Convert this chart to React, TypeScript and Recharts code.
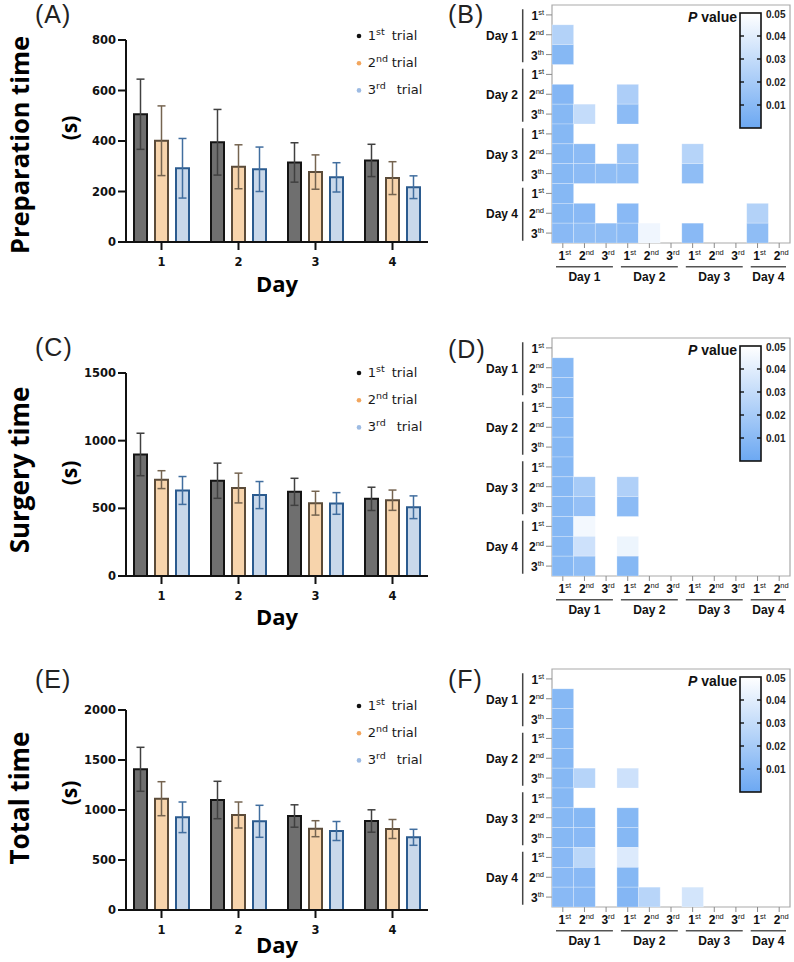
import React from 'react';
import {
  BarChart,
  Bar,
  XAxis,
  YAxis,
  ErrorBar,
  Legend,
  Label,
  ScatterChart,
  Scatter,
  ReferenceArea,
} from 'recharts';

// ---------- bar chart data: mean ± SD (s) per day and trial ----------
const dayLabels = ['1', '2', '3', '4'];

const prep1st = [506, 395, 315, 323];
const prep1stSd = [139, 130, 78, 64];
const prep2nd = [401, 298, 277, 253];
const prep2ndSd = [138, 87, 68, 65];
const prep3rd = [292, 288, 256, 217];
const prep3rdSd = [118, 88, 58, 45];

const surg1st = [898, 704, 622, 570];
const surg1stSd = [157, 130, 100, 86];
const surg2nd = [712, 650, 538, 560];
const surg2ndSd = [66, 110, 88, 75];
const surg3rd = [632, 598, 536, 508];
const surg3rdSd = [103, 100, 80, 84];

const total1st = [1407, 1100, 940, 890];
const total1stSd = [220, 187, 112, 112];
const total2nd = [1113, 950, 813, 810];
const total2ndSd = [170, 130, 80, 95];
const total3rd = [927, 887, 790, 727];
const total3rdSd = [153, 160, 95, 80];

const prepTicks = [0, 200, 400, 600, 800];
const surgTicks = [0, 500, 1000, 1500];
const totalTicks = [0, 500, 1000, 1500, 2000];

// ---------- pairwise comparisons: [row, column, p value] ----------
// rows: Day1 1st..3th, Day2 1st..3th, Day3 ..., Day4 ... (12)
// columns: Day1 1st..3rd, Day2 ..., Day3 ..., Day4 1st, 2nd (11)
const prepPairs: [number, number, number][] = [
  [1, 0, 0.024], [2, 0, 0.009],
  [4, 0, 0.008], [4, 3, 0.022],
  [5, 0, 0.009], [5, 1, 0.03], [5, 3, 0.011],
  [6, 0, 0.009],
  [7, 0, 0.009], [7, 1, 0.011], [7, 3, 0.016], [7, 6, 0.025],
  [8, 0, 0.009], [8, 1, 0.011], [8, 2, 0.012], [8, 3, 0.012], [8, 6, 0.012],
  [9, 0, 0.009],
  [10, 0, 0.009], [10, 1, 0.01], [10, 3, 0.01], [10, 9, 0.024],
  [11, 0, 0.01], [11, 1, 0.012], [11, 2, 0.012], [11, 3, 0.011], [11, 4, 0.045], [11, 6, 0.01], [11, 9, 0.012],
];

const surgPairs: [number, number, number][] = [
  [1, 0, 0.009], [2, 0, 0.009], [3, 0, 0.009], [4, 0, 0.009], [5, 0, 0.009], [6, 0, 0.009],
  [7, 0, 0.009], [7, 1, 0.02], [7, 3, 0.023],
  [8, 0, 0.009], [8, 1, 0.014], [8, 3, 0.011],
  [9, 0, 0.009], [9, 1, 0.046],
  [10, 0, 0.009], [10, 1, 0.033], [10, 3, 0.044],
  [11, 0, 0.009], [11, 1, 0.012], [11, 3, 0.009],
];

const totalPairs: [number, number, number][] = [
  [1, 0, 0.009], [2, 0, 0.009], [3, 0, 0.009], [4, 0, 0.009],
  [5, 0, 0.009], [5, 1, 0.025], [5, 3, 0.033],
  [6, 0, 0.009],
  [7, 0, 0.009], [7, 1, 0.009], [7, 3, 0.009],
  [8, 0, 0.009], [8, 1, 0.01], [8, 3, 0.009],
  [9, 0, 0.01], [9, 1, 0.027], [9, 3, 0.038],
  [10, 0, 0.01], [10, 1, 0.01], [10, 3, 0.009],
  [11, 0, 0.01], [11, 1, 0.01], [11, 3, 0.008], [11, 4, 0.026], [11, 6, 0.035],
];

const trialNums = ['1', '2', '3'];
const rowTrialSup = ['st', 'nd', 'th'];
const colTrialSup = ['st', 'nd', 'rd'];
const heatDays = ['Day 1', 'Day 2', 'Day 3', 'Day 4'];
const rowTicks = [0.5, 1.5, 2.5, 3.5, 4.5, 5.5, 6.5, 7.5, 8.5, 9.5, 10.5, 11.5];
const colTicks = [0.5, 1.5, 2.5, 3.5, 4.5, 5.5, 6.5, 7.5, 8.5, 9.5, 10.5];
const pMax = 0.05;
const pTickValues = [0.01, 0.02, 0.03, 0.04];
const pLabelValues = [0.05, 0.04, 0.03, 0.02, 0.01];

const legendTrials = [
  { num: '1', sup: 'st', dot: '#111111' },
  { num: '2', sup: 'nd', dot: '#f2a65e' },
  { num: '3', sup: 'rd', dot: '#9dbbe3' },
];

// ---------- styling ----------
const SANS_ARIAL = '"Liberation Sans", Arial, sans-serif';
const SANS_WIDE = '"DejaVu Sans", Verdana, sans-serif';
const SANS_TITLE = '"Open Sans", "DejaVu Sans", sans-serif';

const barStyles = [
  { fill: '#6f6f6f', stroke: '#141414', err: '#404040' },
  { fill: '#f7d4ac', stroke: '#5b4b39', err: '#756450' },
  { fill: '#c9d8ea', stroke: '#2b5b8f', err: '#416e9f' },
];

const LOW = [108, 168, 242];
const pColor = (p: number) => {
  const t = Math.max(0, Math.min(1, 1 - p / pMax));
  const c = [0, 1, 2].map((i) => Math.round(255 - t * (255 - LOW[i])));
  return `rgb(${c[0]},${c[1]},${c[2]})`;
};

const PLOT_W = 238;
const PLOT_H = 238;
const CELL_W = PLOT_W / 11;
const CELL_H = PLOT_H / 12;

// ---------- bar panels ----------
type BarCfg = {
  title: string;
  titleSize: number;
  titleY: number;
  unitY: number;
  plotTop: number;
  plotBottom: number;
  yMax: number;
  yTicks: number[];
  dayDy: number;
  legendTop: number;
  series: number[][];
};

const barPanels: BarCfg[] = [
  {
    title: 'Preparation time', titleSize: 25.5, titleY: 145, unitY: 128,
    plotTop: 40, plotBottom: 242, yMax: 800, yTicks: prepTicks, dayDy: 50, legendTop: 35.7,
    series: [prep1st, prep1stSd, prep2nd, prep2ndSd, prep3rd, prep3rdSd],
  },
  {
    title: 'Surgery time', titleSize: 26, titleY: 470, unitY: 473,
    plotTop: 373, plotBottom: 576, yMax: 1500, yTicks: surgTicks, dayDy: 49, legendTop: 373,
    series: [surg1st, surg1stSd, surg2nd, surg2ndSd, surg3rd, surg3rdSd],
  },
  {
    title: 'Total time', titleSize: 26, titleY: 798, unitY: 793,
    plotTop: 710, plotBottom: 910, yMax: 2000, yTicks: totalTicks, dayDy: 43, legendTop: 706,
    series: [total1st, total1stSd, total2nd, total2ndSd, total3rd, total3rdSd],
  },
];

const TrialLegend = () => (
  <svg width={90} height={70} style={{ display: 'block', overflow: 'visible' }}>
    {legendTrials.map((t, i) => {
      const cy = 4 + i * 27.2;
      return (
        <g key={t.num}>
          <circle cx={4} cy={cy} r={2.3} fill={t.dot} />
          <text x={12.7} y={cy + 3.5} fontFamily={SANS_WIDE} fontSize={13} fill="#1a1a1a">
            {t.num}
            <tspan dy={-4.5} fontSize={9.5}>{t.sup}</tspan>
            <tspan x={i === 2 ? 41.7 : 36.7} dy={4.5}>trial</tspan>
          </text>
        </g>
      );
    })}
  </svg>
);

function BarPanel({ cfg }: { cfg: BarCfg }) {
  const top = cfg.plotTop - 40;
  const height = 40 + (cfg.plotBottom - cfg.plotTop) + 62;
  const [m1, s1, m2, s2, m3, s3] = cfg.series;
  const data = dayLabels.map((d, i) => ({
    day: d, m1: m1[i], s1: s1[i], m2: m2[i], s2: s2[i], m3: m3[i], s3: s3[i],
  }));
  const axisStyle = { stroke: '#111', strokeWidth: 2 };
  const tickFont = { fontFamily: SANS_WIDE, fontSize: 11.5, fontWeight: 700, fill: '#111' };
  return (
    <div style={{ position: 'absolute', left: 0, top }}>
      <BarChart
        width={440}
        height={height}
        data={data}
        margin={{ top: 40, right: 12, bottom: 0, left: 66 }}
        barSize={13}
        barGap={8}
      >
        <XAxis
          dataKey="day"
          height={62}
          interval={0}
          padding={{ left: -3, right: -3 }}
          axisLine={axisStyle}
          tickLine={axisStyle}
          tickSize={8}
          tickMargin={8}
          tick={tickFont}
        >
          <Label
            content={() => (
              <text
                x={277}
                y={cfg.plotBottom - top + cfg.dayDy}
                textAnchor="middle"
                fontFamily={SANS_TITLE}
                fontSize={22}
                fontWeight={700}
                fill="#000"
              >
                Day
              </text>
            )}
          />
        </XAxis>
        <YAxis
          width={60}
          domain={[0, cfg.yMax]}
          ticks={cfg.yTicks}
          interval={0}
          axisLine={axisStyle}
          tickLine={axisStyle}
          tickSize={8}
          tickMargin={2}
          tick={tickFont}
        >
          <Label
            content={() => (
              <g>
                <text
                  transform={`translate(28.5, ${cfg.titleY - top}) rotate(-90)`}
                  textAnchor="middle"
                  fontFamily={SANS_TITLE}
                  fontSize={cfg.titleSize}
                  fontWeight={700}
                  fill="#000"
                >
                  {cfg.title}
                </text>
                <text
                  transform={`translate(77, ${cfg.unitY - top}) rotate(-90)`}
                  textAnchor="middle"
                  fontFamily={SANS_TITLE}
                  fontSize={21}
                  fontWeight={700}
                  fill="#000"
                >
                  (s)
                </text>
              </g>
            )}
          />
        </YAxis>
        <Legend
          layout="horizontal"
          verticalAlign="middle"
          align="center"
          width={90}
          height={70}
          content={<TrialLegend />}
          wrapperStyle={{ left: 355, top: cfg.legendTop - top - 4, width: 90, height: 70 }}
        />
        {[
          ['m1', 's1'],
          ['m2', 's2'],
          ['m3', 's3'],
        ].map(([mk, sk], i) => (
          <Bar
            key={mk}
            dataKey={mk}
            fill={barStyles[i].fill}
            stroke={barStyles[i].stroke}
            strokeWidth={2}
            isAnimationActive={false}
          >
            <ErrorBar dataKey={sk} width={4} stroke={barStyles[i].err} strokeWidth={1.5} direction="y" />
          </Bar>
        ))}
      </BarChart>
    </div>
  );
}

// ---------- heatmap panels ----------
const RowTick = (props: any) => {
  const { x, y, payload } = props;
  const r = Math.floor(payload.value);
  const t = r % 3;
  const d = Math.floor(r / 3);
  return (
    <g>
      <text x={x} y={y + 5} textAnchor="end" fontFamily={SANS_ARIAL} fill="#111">
        <tspan fontSize={12} fontWeight={700}>{trialNums[t]}</tspan>
        <tspan dy={-5} fontSize={7.5}>{rowTrialSup[t]}</tspan>
      </text>
      {t === 1 && (
        <g>
          <text x={x - 26} y={y + 5} textAnchor="end" fontFamily={SANS_ARIAL} fontSize={12} fontWeight={700} fill="#111">
            {heatDays[d]}
          </text>
          <line x1={x - 21.3} x2={x - 21.3} y1={y - 25.5} y2={y + 27.5} stroke="#444" strokeWidth={1.5} />
        </g>
      )}
    </g>
  );
};

const ColTick = (props: any) => {
  const { x, y, payload } = props;
  const c = Math.floor(payload.value);
  const t = c % 3;
  const d = Math.floor(c / 3);
  const count = Math.min(3, 11 - d * 3);
  const gc = x + ((count - 1) / 2) * CELL_W;
  const half = (count * CELL_W) / 2 - 4;
  return (
    <g>
      <text x={x + 2} y={y + 10} textAnchor="middle" fontFamily={SANS_ARIAL} fill="#111">
        <tspan fontSize={12} fontWeight={700}>{trialNums[t]}</tspan>
        <tspan dy={-5} fontSize={7.5}>{colTrialSup[t]}</tspan>
      </text>
      {t === 0 && (
        <g>
          <line x1={gc - half} x2={gc + half} y1={y + 16.7} y2={y + 16.7} stroke="#555" strokeWidth={1.5} />
          <text x={gc} y={y + 30.5} textAnchor="middle" fontFamily={SANS_ARIAL} fontSize={12} fontWeight={700} fill="#111">
            {heatDays[d]}
          </text>
        </g>
      )}
    </g>
  );
};

const HeatCell = (props: any) => {
  const { cx, cy, payload } = props;
  if (cx == null || cy == null) return null;
  return (
    <rect
      x={cx - CELL_W / 2}
      y={cy - CELL_H / 2}
      width={CELL_W}
      height={CELL_H}
      fill={pColor(payload.p)}
      stroke="#ffffff"
      strokeOpacity={0.35}
      strokeWidth={0.7}
    />
  );
};

const PValueBar = ({ gid }: { gid: string }) => {
  const bx = 56;
  const by = 10;
  const bw = 21;
  const bh = 115;
  const yOf = (v: number) => by + (1 - v / pMax) * bh;
  return (
    <svg width={110} height={130} style={{ display: 'block', overflow: 'visible' }}>
      <defs>
        <linearGradient id={gid} x1="0" y1="0" x2="0" y2="1">
          <stop offset="0%" stopColor={pColor(pMax)} />
          <stop offset="100%" stopColor={pColor(0)} />
        </linearGradient>
      </defs>
      <text x={53} y={18.7} textAnchor="end" fontFamily={SANS_ARIAL} fontSize={14} fontWeight={700} fill="#111">
        <tspan fontStyle="italic">P</tspan> value
      </text>
      <rect x={bx} y={by} width={bw} height={bh} fill={`url(#${gid})`} stroke="#111" strokeWidth={1.6} />
      {pTickValues.map((v) => (
        <g key={v}>
          <line x1={bx} x2={bx + 4} y1={yOf(v)} y2={yOf(v)} stroke="#111" strokeWidth={1.4} />
          <line x1={bx + bw - 4} x2={bx + bw} y1={yOf(v)} y2={yOf(v)} stroke="#111" strokeWidth={1.4} />
        </g>
      ))}
      {pLabelValues.map((v) => (
        <text key={v} x={82} y={yOf(v) + 3.6 + (v === pMax ? 1 : 0)} fontFamily={SANS_ARIAL} fontSize={10} fontWeight={700} fill="#222">
          {v.toFixed(2)}
        </text>
      ))}
    </svg>
  );
};

type HeatCfg = { id: string; frameTop: number; pairs: [number, number, number][] };

const heatPanels: HeatCfg[] = [
  { id: 'pgB', frameTop: 5, pairs: prepPairs },
  { id: 'pgD', frameTop: 338, pairs: surgPairs },
  { id: 'pgF', frameTop: 669, pairs: totalPairs },
];

function HeatPanel({ cfg }: { cfg: HeatCfg }) {
  const top = cfg.frameTop - 8;
  const cells = cfg.pairs.map(([r, c, p]) => ({ x: c + 0.5, y: r + 0.5, p }));
  return (
    <div style={{ position: 'absolute', left: 400, top }}>
      <ScatterChart width={394} height={8 + PLOT_H + 45} margin={{ top: 8, right: 4, bottom: 0, left: 0 }}>
        <XAxis
          type="number"
          dataKey="x"
          domain={[0, 11]}
          ticks={colTicks}
          interval={0}
          height={45}
          axisLine={false}
          tickLine={{ stroke: '#8a8a8a' }}
          tickSize={5}
          tickMargin={2}
          tick={<ColTick />}
        />
        <YAxis
          type="number"
          dataKey="y"
          domain={[0, 12]}
          reversed
          ticks={rowTicks}
          interval={0}
          width={152}
          axisLine={false}
          tickLine={{ stroke: '#8a8a8a' }}
          tickSize={6}
          tickMargin={2}
          tick={<RowTick />}
        />
        <ReferenceArea
          x1={0}
          x2={11}
          y1={0}
          y2={12}
          fill="none"
          stroke="#a9a9a9"
          strokeWidth={1.2}
          ifOverflow="visible"
        />
        <Scatter data={cells} shape={(p: any) => <HeatCell {...p} />} isAnimationActive={false} />
        <Legend
          layout="horizontal"
          verticalAlign="middle"
          align="center"
          width={110}
          height={130}
          content={<PValueBar gid={cfg.id} />}
          wrapperStyle={{ left: 284, top: 6, width: 110, height: 130 }}
        />
      </ScatterChart>
    </div>
  );
}

const panelTags = [
  { text: '(A)', x: 35, y: 23 },
  { text: '(B)', x: 448, y: 23 },
  { text: '(C)', x: 35, y: 356 },
  { text: '(D)', x: 448, y: 358 },
  { text: '(E)', x: 35, y: 688 },
  { text: '(F)', x: 448, y: 688 },
];

export default function App() {
  return (
    <div
      style={{
        position: 'absolute',
        left: 0,
        top: 0,
        width: 794,
        height: 962,
        background: '#fff',
        overflow: 'hidden',
        fontFamily: SANS_ARIAL,
      }}
    >
      {barPanels.map((cfg) => (
        <BarPanel key={cfg.title} cfg={cfg} />
      ))}
      {heatPanels.map((cfg) => (
        <HeatPanel key={cfg.id} cfg={cfg} />
      ))}
      <svg width={794} height={962} style={{ position: 'absolute', left: 0, top: 0, pointerEvents: 'none' }}>
        {panelTags.map((t) => (
          <text key={t.text} x={t.x} y={t.y} fontFamily={SANS_ARIAL} fontSize={25} letterSpacing={1} fill="#222">
            {t.text}
          </text>
        ))}
      </svg>
    </div>
  );
}
